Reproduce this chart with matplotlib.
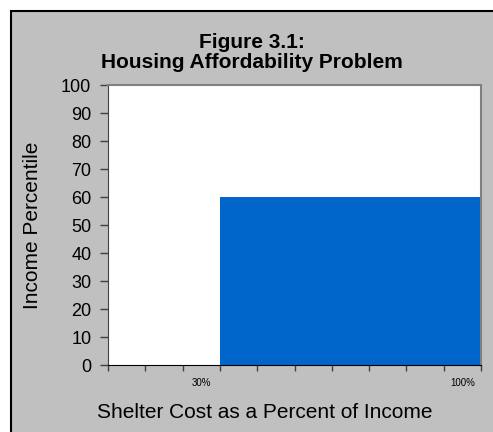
import matplotlib.pyplot as plt
from matplotlib.patches import Rectangle

# category axis: shelter cost as % of income
categories = ["10%", "20%", "30%", "40%", "50%", "60%", "70%", "80%", "90%", "100%"]
income_pct = [0, 0, 0, 60, 60, 60, 60, 60, 60, 60]
shown_labels = ["30%", "100%"]

W, H = 493, 432
fig = plt.figure(figsize=(W / 100, H / 100), dpi=100)
fig.patch.set_facecolor("white")
plt.rcParams["font.family"] = ["Liberation Sans", "DejaVu Sans"]

# gray chart-area box with black top/left border, running off right and bottom
box = Rectangle((11 / W, -0.05), 1.0, 1 - 11 / H + 0.05, transform=fig.transFigure,
                facecolor="#c0c0c0", edgecolor="black", linewidth=1.5, zorder=-5)
fig.patches.append(box)

ax = fig.add_axes([108 / W, 1 - 365 / H, (481 - 108) / W, (365 - 85) / H])
ax.set_facecolor("white")

x = list(range(1, len(categories) + 1))
ax.bar(x, income_pct, width=1.0, color="#0066cc", linewidth=0)

ax.set_xlim(0.5, len(categories) + 0.5)
ax.set_ylim(0, 100)
ax.set_yticks(range(0, 101, 10))
ax.tick_params(axis="y", labelsize=13, length=6, width=1, color="#404040", pad=6)

# boundary ticks (no labels) + centred labels only for selected categories
ax.set_xticks([i + 0.5 for i in range(0, len(categories) + 1)])
ax.set_xticklabels([])
ax.tick_params(axis="x", which="major", length=4, width=1, color="#404040")
lab_pos = [x[categories.index(c)] for c in shown_labels]
ax.set_xticks(lab_pos, minor=True)
ax.set_xticklabels(shown_labels, minor=True)
ax.tick_params(axis="x", which="minor", length=0, labelsize=7, pad=9)

for side in ["top", "right"]:
    ax.spines[side].set_color("#808080")
    ax.spines[side].set_linewidth(1.5)
ax.spines["left"].set_color("#404040")
ax.spines["bottom"].set_color("black")

ax.set_ylabel("Income Percentile", fontsize=15)
ax.yaxis.set_label_coords((33 - 108) / 373, 0.5)
ax.set_xlabel("Shelter Cost as a Percent of Income", fontsize=15)
ax.xaxis.set_label_coords((265 - 108) / 373, (365 - 412) / 280)
ax.xaxis.label.set_va("center")
ax.yaxis.label.set_va("center")

fig.text(252 / W, 1 - 42 / H, "Figure 3.1:", ha="center", va="center",
         fontsize=15, fontweight="bold")
fig.text(252 / W, 1 - 63 / H, "Housing Affordability Problem", ha="center", va="center",
         fontsize=15, fontweight="bold")

fig.savefig("out.png", dpi=100)
